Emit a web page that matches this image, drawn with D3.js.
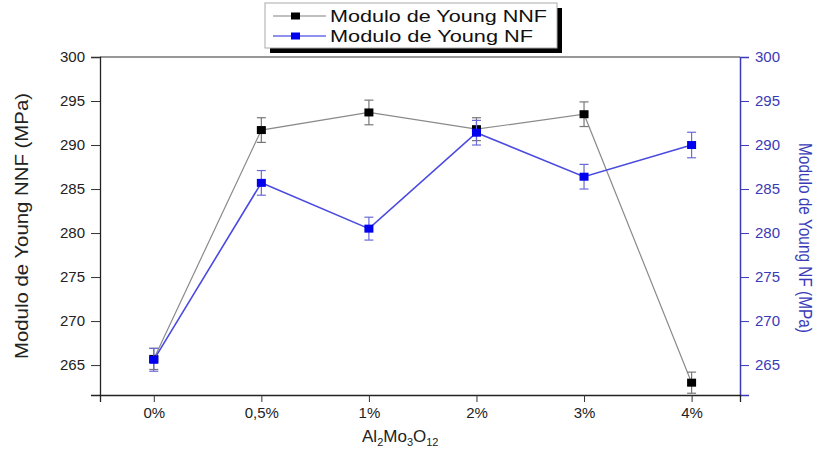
<!DOCTYPE html>
<html>
<head>
<meta charset="utf-8">
<script src="https://cdn.jsdelivr.net/npm/d3@7"></script>
<style>
html,body{margin:0;padding:0;background:#fff;}
svg{display:block;font-family:"Liberation Sans",Arial,sans-serif;}
</style>
</head>
<body>
<svg id="chart" width="821" height="454"></svg>
<script>
const categories = ["0%", "0,5%", "1%", "2%", "3%", "4%"];
const nnfValues = [265.7, 291.7, 293.7, 291.8, 293.5, 263.0];
const nnfErrors = [1.2, 1.4, 1.4, 1.3, 1.4, 1.2];
const nfValues = [265.6, 285.7, 280.5, 291.4, 286.4, 290.0];
const nfErrors = [1.3, 1.4, 1.3, 1.4, 1.4, 1.45];
const yTicks = [265, 270, 275, 280, 285, 290, 295, 300];
const seriesNames = ["Modulo de Young NNF", "Modulo de Young NF"];

const svg = d3.select("#chart");
const L = 100, R = 740, T = 57, B = 395;
const BLUEAXIS = "#3a3ab8";

const x = d3.scaleLinear().domain([-0.5, 5.45]).range([L, R]);
const yL = d3.scaleLinear().domain([261.6, 300]).range([B, T]);
const yR = d3.scaleLinear().domain([261.6, 300]).range([B, T]);

// frame top line
svg.append("line").attr("x1", L).attr("x2", R).attr("y1", T).attr("y2", T)
  .attr("stroke", "#333").attr("stroke-width", 1.2);

// Left axis
const minorY = d3.range(262.5, 300.01, 2.5);
const gL = svg.append("g").attr("transform", `translate(${L},0)`);
gL.call(d3.axisLeft(yL).tickValues(minorY).tickSize(4).tickFormat(""))
  .call(g => g.select(".domain").remove());
gL.call(d3.axisLeft(yL).tickValues(yTicks).tickSize(9).tickPadding(6).tickFormat(d3.format("d")));
gL.selectAll("path.domain").attr("stroke", "#222").attr("stroke-width", 1.3);
gL.selectAll("line").attr("stroke", "#333");
gL.selectAll("text").attr("font-size", 15).attr("fill", "#222");

// Right axis
const gR = svg.append("g").attr("transform", `translate(${R},0)`);
gR.call(d3.axisRight(yR).tickValues(minorY).tickSize(4).tickFormat(""))
  .call(g => g.select(".domain").remove());
gR.call(d3.axisRight(yR).tickValues(yTicks).tickSize(9).tickPadding(6).tickFormat(d3.format("d")));
gR.selectAll("path.domain").attr("stroke", BLUEAXIS).attr("stroke-width", 1.5);
gR.selectAll("line").attr("stroke", BLUEAXIS);
gR.selectAll("text").attr("font-size", 15).attr("fill", BLUEAXIS);

// Bottom axis
const gB = svg.append("g").attr("transform", `translate(0,${B})`);
gB.call(d3.axisBottom(x).tickValues(d3.range(-0.5, 5.51, 1)).tickSize(4).tickFormat(""))
  .call(g => g.select(".domain").remove());
gB.call(d3.axisBottom(x).tickValues(d3.range(0, 6)).tickSize(7).tickPadding(5)
  .tickFormat(i => categories[i]));
gB.selectAll("path.domain").attr("stroke", "#222").attr("stroke-width", 1.3);
gB.selectAll("line").attr("stroke", "#333");
gB.selectAll("text").attr("font-size", 15).attr("fill", "#222");

// Axis titles
svg.append("text").attr("transform", "translate(28,226) rotate(-90)")
  .attr("text-anchor", "middle").attr("font-size", 18).attr("fill", "#222")
  .attr("textLength", 266).attr("lengthAdjust", "spacingAndGlyphs")
  .text("Modulo de Young NNF (MPa)");
svg.append("text").attr("transform", "translate(799,238) rotate(90)")
  .attr("text-anchor", "middle").attr("font-size", 18).attr("fill", BLUEAXIS)
  .attr("textLength", 190).attr("lengthAdjust", "spacingAndGlyphs")
  .text("Modulo de Young NF (MPa)");
const xt = svg.append("text").attr("x", 362).attr("y", 442)
  .attr("font-size", 17).attr("fill", "#222");
xt.append("tspan").text("Al");
xt.append("tspan").attr("font-size", 11).attr("dy", 4).text("2");
xt.append("tspan").attr("dy", -4).text("Mo");
xt.append("tspan").attr("font-size", 11).attr("dy", 4).text("3");
xt.append("tspan").attr("dy", -4).text("O");
xt.append("tspan").attr("font-size", 11).attr("dy", 4).text("12");

// Series drawing
function drawSeries(vals, errs, y, lineColor, lineW, markColor, errColor) {
  const data = vals.map((v, i) => ({i, v, e: errs[i]}));
  const g = svg.append("g");
  g.append("path").datum(data)
    .attr("d", d3.line().x(d => x(d.i)).y(d => y(d.v)))
    .attr("fill", "none").attr("stroke", lineColor).attr("stroke-width", lineW);
  const eb = g.selectAll("g.eb").data(data).join("g");
  eb.append("line").attr("x1", d => x(d.i)).attr("x2", d => x(d.i))
    .attr("y1", d => y(d.v - d.e)).attr("y2", d => y(d.v + d.e))
    .attr("stroke", errColor).attr("stroke-width", 1.2);
  [1, -1].forEach(s => {
    eb.append("line").attr("x1", d => x(d.i) - 4.5).attr("x2", d => x(d.i) + 4.5)
      .attr("y1", d => y(d.v + s * d.e)).attr("y2", d => y(d.v + s * d.e))
      .attr("stroke", errColor).attr("stroke-width", 1.2);
  });
  g.selectAll("rect.m").data(data).join("rect")
    .attr("x", d => x(d.i) - 4.5).attr("y", d => y(d.v) - 4)
    .attr("width", 9).attr("height", 8).attr("fill", markColor);
}
drawSeries(nnfValues, nnfErrors, yL, "#8a8a8a", 1.2, "#000", "#777");
drawSeries(nfValues, nfErrors, yR, "#4a4ae0", 1.6, "#0000ee", "#6a6ad8");

// Legend
const lg = svg.append("g");
lg.append("rect").attr("x", 270).attr("y", 8).attr("width", 292).attr("height", 45).attr("fill", "#000");
lg.append("rect").attr("x", 265).attr("y", 3).attr("width", 292).attr("height", 45)
  .attr("fill", "#fff").attr("stroke", "#aaa").attr("stroke-width", 1);
const legendItems = [
  {name: seriesNames[0], line: "#aaa", mark: "#000", y: 16, len: 217},
  {name: seriesNames[1], line: "#6a6ae8", mark: "#0000ee", y: 36, len: 203}
];
legendItems.forEach(it => {
  lg.append("line").attr("x1", 273).attr("x2", 326).attr("y1", it.y).attr("y2", it.y)
    .attr("stroke", it.line).attr("stroke-width", 1.3);
  lg.append("rect").attr("x", 291).attr("y", it.y - 3.5).attr("width", 9).attr("height", 7).attr("fill", it.mark);
  lg.append("text").attr("x", 330).attr("y", it.y + 6).attr("font-size", 17).attr("fill", "#111")
    .attr("textLength", it.len).attr("lengthAdjust", "spacingAndGlyphs")
    .text(it.name);
});
</script>
</body>
</html>
